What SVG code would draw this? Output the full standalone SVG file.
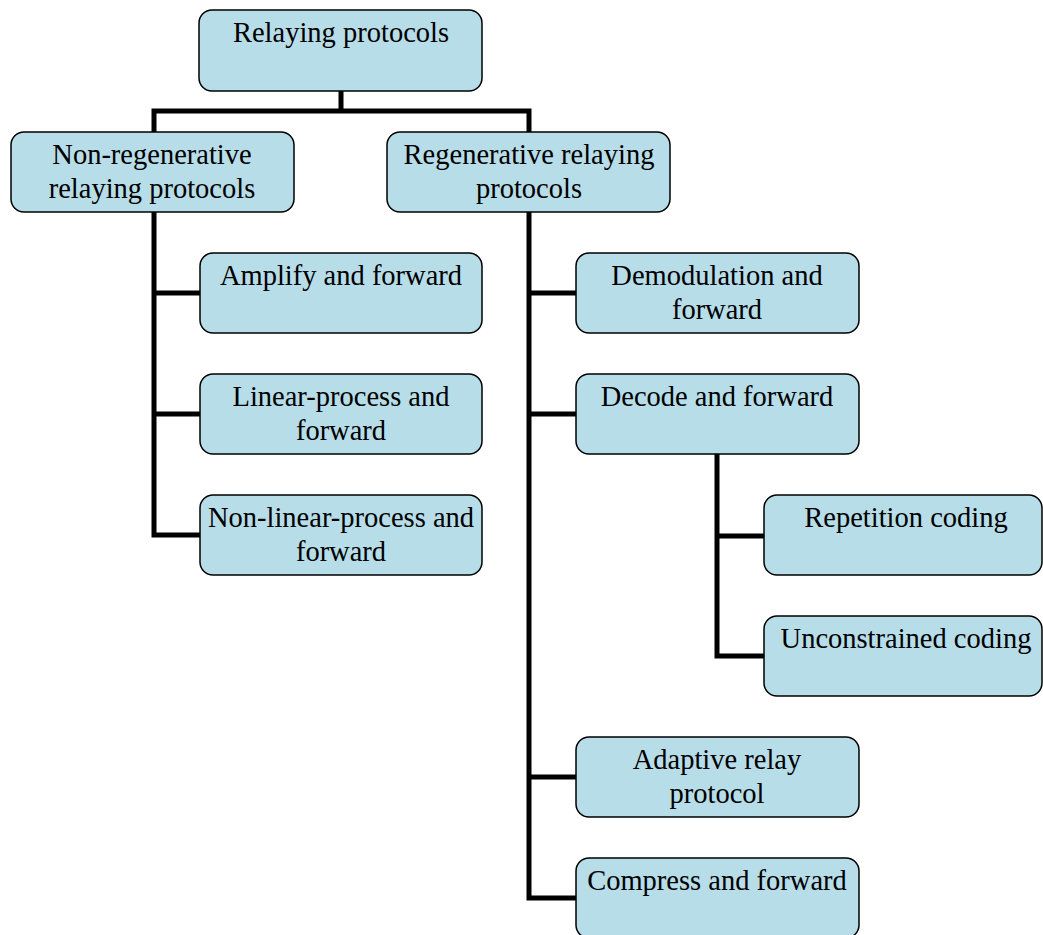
<svg xmlns="http://www.w3.org/2000/svg" width="1043" height="935" viewBox="0 0 1043 935">
<style>
.box{fill:#B7DDE8;stroke:#000;stroke-width:1.5}
.t{font-family:"Liberation Serif","Times New Roman",serif;font-size:28.5px;fill:#000;text-anchor:middle}
.c{fill:none;stroke:#000;stroke-width:5;stroke-linecap:square;stroke-linejoin:miter}
</style>
<rect width="1043" height="935" fill="#fff"/>
<g id="connectors">
<path class="c" d="M341,91 V111 M154,111 H529 M154,111 V132 M529,111 V132"/>
<path class="c" d="M154,212 V535 H200 M154,293 H200 M154,414 H200"/>
<path class="c" d="M529,212 V898 H576 M529,293 H576 M529,414 H576 M529,777 H576"/>
<path class="c" d="M717,454 V656 H764 M717,536 H764"/>
</g>
<g id="n-root"><rect class="box" x="199" y="10" width="283" height="81" rx="13"/><text class="t" x="341" y="42">Relaying protocols</text></g>
<g id="n-nonregen"><rect class="box" x="11" y="132" width="283" height="80" rx="13"/><text class="t" x="152" y="164">Non-regenerative</text><text class="t" x="152" y="198">relaying protocols</text></g>
<g id="n-regen"><rect class="box" x="387" y="132" width="283" height="80" rx="13"/><text class="t" x="529" y="164">Regenerative relaying</text><text class="t" x="529" y="198">protocols</text></g>
<g id="n-af"><rect class="box" x="200" y="253" width="282" height="80" rx="13"/><text class="t" x="341" y="285">Amplify and forward</text></g>
<g id="n-lpf"><rect class="box" x="200" y="374" width="282" height="80" rx="13"/><text class="t" x="341" y="406">Linear-process and</text><text class="t" x="341" y="440">forward</text></g>
<g id="n-nlpf"><rect class="box" x="200" y="495" width="282" height="80" rx="13"/><text class="t" x="341" y="527">Non-linear-process and</text><text class="t" x="341" y="561">forward</text></g>
<g id="n-demf"><rect class="box" x="576" y="253" width="283" height="80" rx="13"/><text class="t" x="717" y="285">Demodulation and</text><text class="t" x="717" y="319">forward</text></g>
<g id="n-df"><rect class="box" x="576" y="374" width="283" height="80" rx="13"/><text class="t" x="717" y="406">Decode and forward</text></g>
<g id="n-rep"><rect class="box" x="764" y="495" width="278" height="80" rx="13"/><text class="t" x="906" y="527">Repetition coding</text></g>
<g id="n-unc"><rect class="box" x="764" y="616" width="278" height="80" rx="13"/><text class="t" x="906" y="648">Unconstrained coding</text></g>
<g id="n-arp"><rect class="box" x="576" y="737" width="283" height="80" rx="13"/><text class="t" x="717" y="769">Adaptive relay</text><text class="t" x="717" y="803">protocol</text></g>
<g id="n-cf"><rect class="box" x="576" y="858" width="283" height="80" rx="13"/><text class="t" x="717" y="890">Compress and forward</text></g>
</svg>
